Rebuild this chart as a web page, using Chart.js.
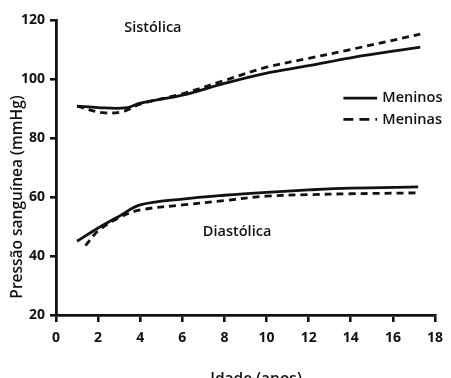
<!DOCTYPE html>
<html><head><meta charset="utf-8">
<script src="https://cdn.jsdelivr.net/npm/chart.js@4/dist/chart.umd.min.js"></script>
<style>html,body{margin:0;padding:0;background:#fff;}#wrap{width:451px;height:378px;}</style>
</head><body><div id="wrap"><canvas id="c" width="451" height="378"></canvas></div>
<script>
const xTicks = [0,2,4,6,8,10,12,14,16,18];
const yTicks = [20,40,60,80,100,120];
const sysBoysAge = [1,2,3.3,4,6,8,10,12,14,17.3];
const sysBoys = [90.8,90.3,90.2,91.8,94.5,98.5,102,104.5,107.2,110.8];
const sysGirlsAge = [1,2.2,3.2,4,6,8,10,12,14,17.3];
const sysGirls = [90.8,88.6,89,91.5,95,99.5,104,107,110,115.2];
const diaBoysAge = [1,2,3,4,6,8,10,12,14,17.2];
const diaBoys = [45,49.5,53.5,57.3,59.3,60.6,61.6,62.4,63,63.4];
const diaGirlsAge = [1.4,2,3,4,6,8,10,12,14,17.2];
const diaGirls = [43.5,48.5,53,55.6,57.3,58.8,60.3,60.8,61.1,61.4];
const seriesNames = ["Meninos","Meninas"];
const labelsText = {sys:"Sistólica", dia:"Diastólica"};
const axisTitles = {x:"Idade (anos)", y:"Pressão sanguínea (mmHg)"};

const FONT = "'Open Sans', sans-serif";
const INK = '#111';
const pts = (xs, ys) => xs.map((x,i)=>({x, y: ys[i]}));
const solid = {borderColor:INK, borderWidth:2.8, pointRadius:0, tension:0.35, fill:false};
const dashed = {...solid, borderDash:[7,5]};

const textPlugin = {
  id:'texts',
  afterDatasetsDraw(chart){
    const {ctx, scales:{x,y}} = chart;
    ctx.save();
    ctx.fillStyle = INK;
    ctx.font = "600 14.5px " + FONT;
    ctx.textAlign = 'center'; ctx.textBaseline = 'middle';
    ctx.fillText(labelsText.sys, x.getPixelForValue(4.6), y.getPixelForValue(117.4));
    ctx.fillText(labelsText.dia, x.getPixelForValue(8.6), y.getPixelForValue(48.2));
    // axis titles
    ctx.font = "600 15.5px " + FONT;
    ctx.fillText(axisTitles.x, 256, 380);
    ctx.save();
    ctx.translate(18, 197);
    ctx.rotate(-Math.PI/2);
    ctx.fillText(axisTitles.y, 0, 0);
    ctx.restore();
    // legend
    const ly = [93.5, 86.3];
    ctx.font = "600 14.5px " + FONT;
    ctx.textAlign = 'left';
    ly.forEach((v,i)=>{
      const py = y.getPixelForValue(v);
      ctx.beginPath();
      ctx.lineWidth = 2.8; ctx.strokeStyle = INK;
      ctx.setLineDash(i===0?[]:[10,6]);
      ctx.moveTo(x.getPixelForValue(13.65), py);
      ctx.lineTo(x.getPixelForValue(15.25), py);
      ctx.stroke();
      ctx.setLineDash([]);
      ctx.fillText(seriesNames[i], x.getPixelForValue(15.5), py);
    });
    ctx.restore();
  }
};

new Chart(document.getElementById('c'), {
  type:'line',
  data:{datasets:[
    {label:seriesNames[0], data:pts(sysBoysAge,sysBoys), ...solid},
    {label:seriesNames[1], data:pts(sysGirlsAge,sysGirls), ...dashed},
    {label:seriesNames[0], data:pts(diaBoysAge,diaBoys), ...solid},
    {label:seriesNames[1], data:pts(diaGirlsAge,diaGirls), ...dashed}
  ]},
  options:{
    responsive:false, animation:false,
    layout:{padding:{left:0, right:11, top:20, bottom:0}},
    plugins:{legend:{display:false}, tooltip:{enabled:false}},
    scales:{
      x:{type:'linear', min:0, max:18,
        afterBuildTicks(ax){ax.ticks = xTicks.map(v=>({value:v}));},
        afterFit(ax){ax.height = 378 - 315;},
        grid:{display:true, drawOnChartArea:false, drawTicks:true, tickLength:7, color:INK, lineWidth:2.6, tickColor:INK, tickWidth:2.6},
        border:{display:true, color:INK, width:2.8},
        ticks:{color:INK, font:{family:FONT, size:14, weight:'bold'}, padding:8, maxRotation:0},
        title:{display:false}
      },
      y:{type:'linear', min:20, max:120,
        afterBuildTicks(ax){ax.ticks = yTicks.map(v=>({value:v}));},
        afterFit(ax){ax.width = 56;},
        grid:{display:true, drawOnChartArea:false, drawTicks:true, tickLength:6, color:INK, lineWidth:2.6, tickColor:INK, tickWidth:2.6},
        border:{display:true, color:INK, width:2.8},
        ticks:{color:INK, font:{family:FONT, size:14, weight:'bold'}, padding:5},
        title:{display:false}
      }
    }
  },
  plugins:[textPlugin]
});
</script></body></html>
